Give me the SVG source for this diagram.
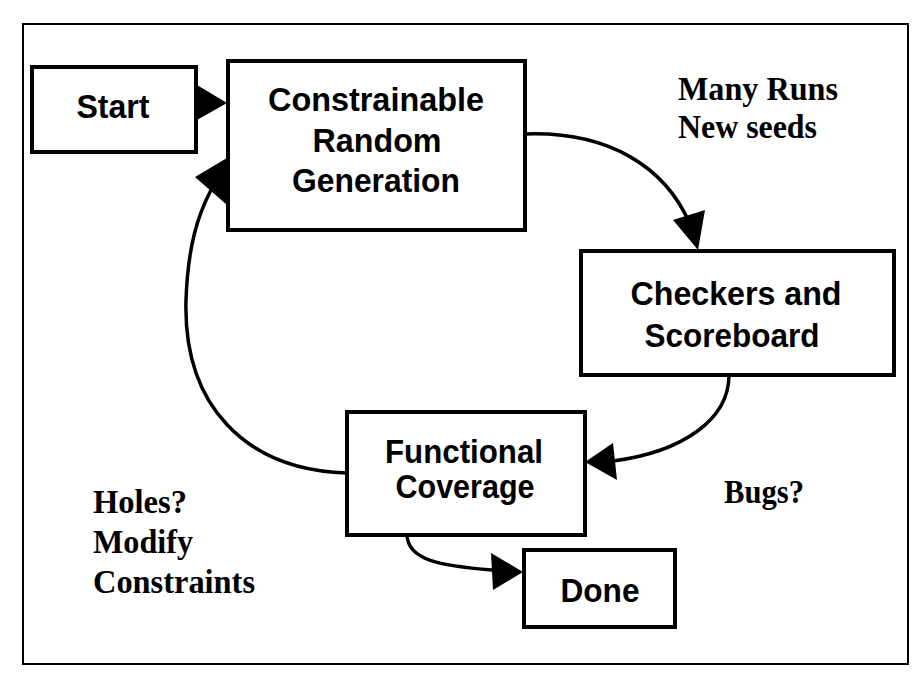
<svg xmlns="http://www.w3.org/2000/svg" width="924" height="680" viewBox="0 0 924 680">
<style>
.box{fill:#fff;stroke:#000;stroke-width:4}
.frame{fill:#fff;stroke:#000;stroke-width:2}
.lbl{font-family:"Liberation Sans",Arial,sans-serif;font-weight:bold;font-size:34px;fill:#000;text-anchor:middle}
.note{font-family:"Liberation Serif","Times New Roman",serif;font-weight:bold;font-size:34px;fill:#000}
.edge{fill:none;stroke:#000;stroke-width:3.5}
.head{fill:#000;stroke:none}
</style>
<rect class="frame" x="23" y="24" width="885" height="640"/>
<g id="connectors">
<polygon class="head" points="197,85 227,103 197,120"/>
<path class="edge" d="M525,134 C610,131 665,168 689,222"/>
<polygon class="head" points="673,220 705,210 698,250"/>
<path class="edge" d="M729,375 C729,420 682,452 613,461"/>
<polygon class="head" points="585,462 613,443 617,480"/>
<path class="edge" d="M347,473 C245,470 183,405 186,300 C188,245 198,215 211,190"/>
<polygon class="head" points="227,158 195,177 227,205"/>
<path class="edge" d="M407,535 C408,560 440,566 492,570"/>
<polygon class="head" points="491,553 523,572 493,590"/>
</g>
<g id="start">
<rect class="box" x="32" y="67" width="164" height="85"/>
<text class="lbl" x="113" y="118" textLength="73" lengthAdjust="spacingAndGlyphs">Start</text>
</g>
<g id="crg">
<rect class="box" x="228" y="61" width="297" height="169"/>
<text class="lbl" x="376" y="111" textLength="216" lengthAdjust="spacingAndGlyphs">Constrainable</text>
<text class="lbl" x="377" y="152" textLength="129" lengthAdjust="spacingAndGlyphs">Random</text>
<text class="lbl" x="376" y="192" textLength="168" lengthAdjust="spacingAndGlyphs">Generation</text>
</g>
<g id="checkers">
<rect class="box" x="581" y="251" width="313" height="124"/>
<text class="lbl" x="736" y="305" textLength="211" lengthAdjust="spacingAndGlyphs">Checkers and</text>
<text class="lbl" x="732" y="347" textLength="175" lengthAdjust="spacingAndGlyphs">Scoreboard</text>
</g>
<g id="coverage">
<rect class="box" x="347" y="412" width="238" height="123"/>
<text class="lbl" x="464" y="463" textLength="158" lengthAdjust="spacingAndGlyphs">Functional</text>
<text class="lbl" x="465" y="498" textLength="139" lengthAdjust="spacingAndGlyphs">Coverage</text>
</g>
<g id="done">
<rect class="box" x="524" y="550" width="151" height="77"/>
<text class="lbl" x="600" y="602" textLength="79" lengthAdjust="spacingAndGlyphs">Done</text>
</g>
<g id="notes">
<text class="note" x="678" y="100" textLength="160" lengthAdjust="spacingAndGlyphs">Many Runs</text>
<text class="note" x="678" y="138" textLength="139" lengthAdjust="spacingAndGlyphs">New seeds</text>
<text class="note" x="724" y="503" textLength="80" lengthAdjust="spacingAndGlyphs">Bugs?</text>
<text class="note" x="93" y="513" textLength="94" lengthAdjust="spacingAndGlyphs">Holes?</text>
<text class="note" x="93" y="553" textLength="100" lengthAdjust="spacingAndGlyphs">Modify</text>
<text class="note" x="93" y="593" textLength="162" lengthAdjust="spacingAndGlyphs">Constraints</text>
</g>
</svg>
